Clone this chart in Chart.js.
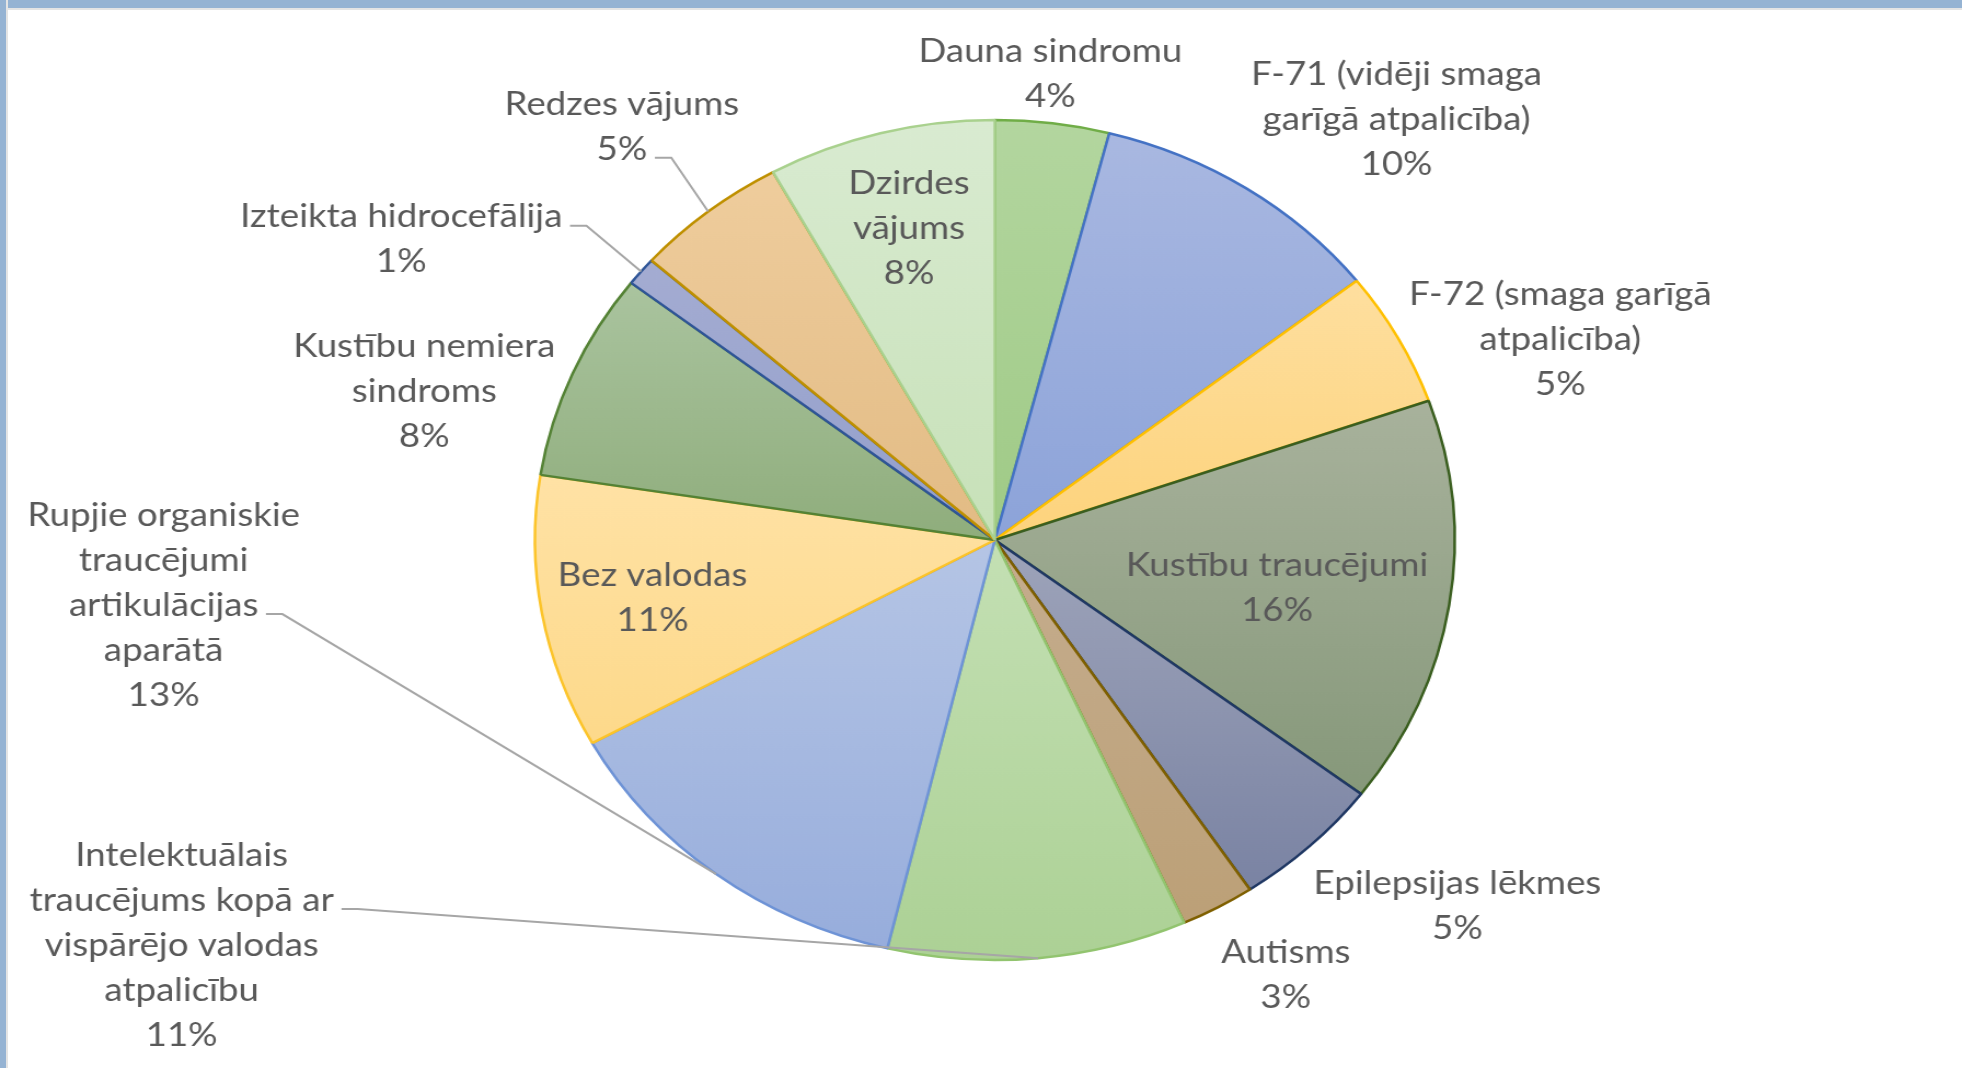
<!DOCTYPE html>
<html>
<head>
<meta charset="utf-8">
<script src="https://cdn.jsdelivr.net/npm/chart.js@4.4.1/dist/chart.umd.min.js"></script>
<style>
  html, body { margin: 0; padding: 0; background: #fff; overflow: hidden; }
  #wrap { position: absolute; left: 0; top: 0; width: 1792px; height: 1068px; transform: scaleX(1.095); transform-origin: 0 0; }
  #frameTop { position: absolute; left: 0; top: 0; width: 1962px; height: 8px; background: #95b3d3; border-bottom: 2px solid #e4e4e4; z-index: 2; }
  #frameLeft { position: absolute; left: 0; top: 0; width: 6px; height: 1068px; background: #95b3d3; border-right: 2px solid #e4e4e4; z-index: 2; }
</style>
</head>
<body>
<div id="frameTop"></div>
<div id="frameLeft"></div>
<div id="wrap"><canvas id="myChart"></canvas></div>
<script>
/* globals Chart:false */

// Categories (clockwise from 12 o'clock), already broken into lines as on the chart
const categories = [
  ['Dauna sindromu'],
  ['F-71 (vidēji smaga', 'garīgā atpalicība)'],
  ['F-72 (smaga garīgā', 'atpalicība)'],
  ['Kustību traucējumi'],
  ['Epilepsijas lēkmes'],
  ['Autisms'],
  ['Intelektuālais', 'traucējums kopā ar', 'vispārējo valodas', 'atpalicību'],
  ['Rupjie organiskie', 'traucējumi', 'artikulācijas', 'aparātā'],
  ['Bez valodas'],
  ['Kustību nemiera', 'sindroms'],
  ['Izteikta hidrocefālija'],
  ['Redzes vājums'],
  ['Dzirdes', 'vājums']
]

// share of children, %
const values = [4.0, 10.4, 5.2, 15.7, 5.3, 2.6, 10.5, 13.2, 10.5, 8.0, 1.1, 5.4, 8.0]

// fill gradient (top -> bottom) and outline of each slice
const fillTop = ['#b3d69f', '#a9b8e1', '#fedf9f', '#a8b29c', '#9ea4ba', '#c5ad8e', '#c4e0b4',
  '#b5c5e5', '#ffe2a5', '#aac49f', '#a4acd2', '#efcd9d', '#d9ebd1']
const fillBottom = ['#9fca86', '#8ca3d9', '#fdd37c', '#86987a', '#7a83a3', '#bca077', '#acd195',
  '#97addc', '#fdd98a', '#8fad7c', '#939fcb', '#e2bb84', '#c7e1b8']
const outline = ['#70ad47', '#4472c4', '#ffc000', '#3a5e1f', '#203864', '#7f6000', '#92c46f',
  '#6e93d6', '#fcc42a', '#548235', '#2f5597', '#bf9000', '#a9d18e']

// label placement: distance from centre (x radius) and angle shift (deg) from the slice middle
const labelDist = [1.117, 1.33, 1.319, 0.624, 1.33, 1.214, 2.014, 1.814, 0.757, 1.29, 1.476, 1.276, 0.765]
const labelShift = [-1, 7.9, 7.5, 1.5, -5.9, -2.4, 66.8, 47.8, -0.5, -7.4, -10.7, -0.9, 0.3]
// leader line starts next to this text line (null = no leader)
const leaderLine = [null, null, null, null, null, null, 1, 2, null, null, 0, 1, null]

const PIE_R = 420
const LINE_H = 45
const FONT = '33.5px Lato, "Open Sans", sans-serif'
const total = values.reduce((a, b) => a + b, 0)

function sliceYRange (i, cy) {
  let cum = 0
  for (let k = 0; k < i; k++) cum += values[k]
  const a0 = -Math.PI / 2 + 2 * Math.PI * cum / total
  const a1 = a0 + 2 * Math.PI * values[i] / total
  const ys = [cy, cy + PIE_R * Math.sin(a0), cy + PIE_R * Math.sin(a1)]
  if (a0 <= Math.PI / 2 && a1 >= Math.PI / 2) ys.push(cy + PIE_R)
  return [Math.min(...ys), Math.max(...ys)]
}

const sliceLabels = {
  id: 'sliceLabels',
  afterDatasetsDraw (chart) {
    const ctx = chart.ctx
    const meta = chart.getDatasetMeta(0)
    ctx.save()
    ctx.font = FONT
    ctx.fillStyle = '#595959'
    ctx.textAlign = 'center'
    ctx.textBaseline = 'middle'
    meta.data.forEach((arc, i) => {
      const p = arc.getProps(['x', 'y', 'startAngle', 'endAngle', 'outerRadius'], true)
      const mid = (p.startAngle + p.endAngle) / 2
      const a = mid + labelShift[i] * Math.PI / 180
      const cx = p.x + Math.cos(a) * p.outerRadius * labelDist[i]
      const cy = p.y + Math.sin(a) * p.outerRadius * labelDist[i]
      const pct = Math.round(values[i] / total * 100) + '%'
      const lines = categories[i].concat([pct])
      const y0 = cy - (lines.length - 1) / 2 * LINE_H
      lines.forEach((t, j) => ctx.fillText(t, cx, y0 + j * LINE_H))

      if (leaderLine[i] !== null) {
        const j = leaderLine[i]
        const w = ctx.measureText(lines[j]).width
        const sx = cx + w / 2 + 7
        const sy = y0 + j * LINE_H + 9
        ctx.beginPath()
        ctx.moveTo(sx, sy)
        ctx.lineTo(sx + 15, sy)
        ctx.lineTo(p.x + Math.cos(mid) * p.outerRadius, p.y + Math.sin(mid) * p.outerRadius)
        ctx.strokeStyle = '#a6a6a6'
        ctx.lineWidth = 2
        ctx.stroke()
      }
    })
    ctx.restore()
  }
}

const ctx = document.getElementById('myChart')
// eslint-disable-next-line no-unused-vars
const myChart = new Chart(ctx, {
  type: 'pie',
  data: {
    labels: categories,
    datasets: [{
      data: values,
      backgroundColor (c) {
        const area = c.chart.chartArea
        const i = c.dataIndex
        if (!area || i === undefined) return fillTop[i || 0]
        const cy = (area.top + area.bottom) / 2
        const [top, bottom] = sliceYRange(i, cy)
        const g = c.chart.ctx.createLinearGradient(0, top, 0, bottom)
        g.addColorStop(0, fillTop[i])
        g.addColorStop(1, fillBottom[i])
        return g
      },
      borderColor: outline,
      borderWidth: 2.5,
      radius: PIE_R
    }]
  },
  options: {
    responsive: true,
    maintainAspectRatio: false,
    animation: false,
    layout: { padding: { left: 25, top: 12 } },
    plugins: {
      legend: { display: false },
      tooltip: { enabled: false }
    }
  },
  plugins: [sliceLabels]
})
</script>
</body>
</html>
